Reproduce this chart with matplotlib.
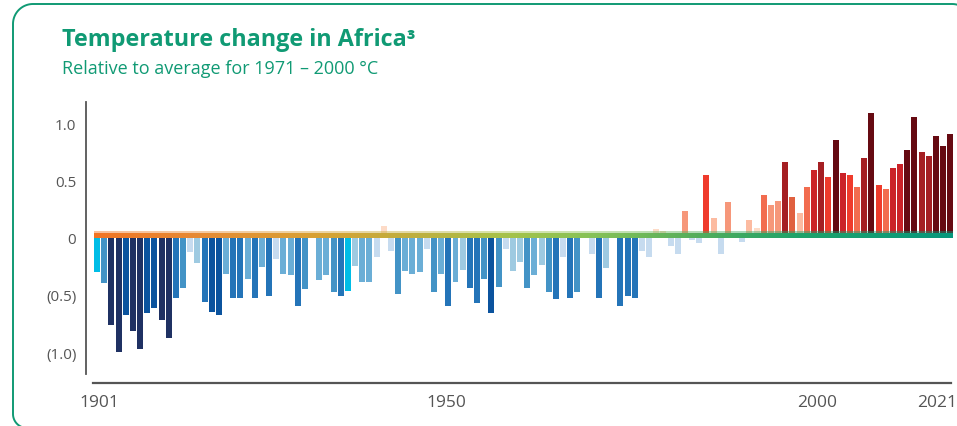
import matplotlib
matplotlib.use("Agg")
import matplotlib.pyplot as plt
import numpy as np
from matplotlib.colors import LinearSegmentedColormap

# ---------------- data ----------------
years = list(range(1901, 2021))
anomaly = [
    -0.30, -0.40, -0.76, -1.00, -0.68, -0.82, -0.97, -0.66, -0.62, -0.72,
    -0.88, -0.53, -0.44, -0.13, -0.22, -0.56, -0.65, -0.68, -0.32, -0.53,
    -0.53, -0.36, -0.53, -0.26, -0.51, -0.19, -0.32, -0.33, -0.60, -0.45,
    0.01, -0.37, -0.33, -0.48, -0.51, -0.47, -0.25, -0.39, -0.39, -0.17,
    0.10, -0.12, -0.49, -0.29, -0.32, -0.30, -0.10, -0.48, -0.32, -0.60,
    -0.39, -0.28, -0.44, -0.57, -0.36, -0.66, -0.43, -0.10, -0.29, -0.21,
    -0.44, -0.33, -0.24, -0.48, -0.54, -0.17, -0.53, -0.48, 0.01, -0.14,
    -0.53, -0.27, 0.01, -0.60, -0.51, -0.53, -0.12, -0.17, 0.07, 0.06,
    -0.07, -0.14, 0.23, -0.02, -0.05, 0.55, 0.17, -0.14, 0.31, 0.01,
    -0.04, 0.15, 0.08, 0.37, 0.28, 0.32, 0.66, 0.35, 0.21, 0.44,
    0.59, 0.66, 0.53, 0.85, 0.56, 0.55, 0.44, 0.69, 1.09, 0.46,
    0.42, 0.61, 0.64, 0.76, 1.05, 0.75, 0.71, 0.89, 0.80, 0.90,
]
# colour class of each bar as drawn in the source
color_class = [
    "C", "B3", "N", "N", "B1", "N", "N", "B1", "B1", "N",
    "N", "B2", "B3", "B6", "B5", "B2", "B1", "B1", "B4", "B2",
    "B2", "B4", "B2", "B4", "B2", "B6", "B4", "B4", "B2", "B3",
    "R1", "B4", "B4", "B3", "B2", "C", "B5", "B4", "B4", "B6",
    "R1", "B6", "B3", "B4", "B4", "B4", "B6", "B3", "B4", "B2",
    "B4", "B5", "B2", "B2", "B3", "B1", "B3", "B6", "B5", "B5",
    "B3", "B4", "B5", "B3", "B2", "B6", "B2", "B3", "R1", "B6",
    "B2", "B5", "R1", "B2", "B2", "B2", "B6", "B6", "R1", "R1",
    "B6", "B6", "R3", "B6", "B6", "R5", "R2", "B6", "R3", "R1",
    "B6", "R2", "R1", "R4", "R3", "R3", "R7", "R4b", "R2", "R4",
    "R6", "R7", "R5", "R8", "R6", "R5", "R4", "R7", "R8", "R5",
    "R4", "R6", "R6", "R8", "R8", "R7", "R7", "R8", "R8", "R8",
]
ytick_vals = [1.0, 0.5, 0.0, -0.5, -1.0]
ytick_labels = ["1.0", "0.5", "0", "(0.5)", "(1.0)"]
xtick_labels = ["1901", "1950", "2000", "2021"]

# ---------------- style ----------------
palette = {
    "C": "#00bde6", "N": "#1f3163", "B1": "#0b539e", "B2": "#2474b8",
    "B3": "#4393c6", "B4": "#6baed6", "B5": "#9ecae1", "B6": "#c6dbef",
    "R1": "#fddbc7", "R2": "#fcbba1", "R3": "#f6977a", "R4": "#f26c4f",
    "R4b": "#e0603f", "R5": "#ef3b2c", "R6": "#cb2228", "R7": "#a51f23",
    "R8": "#660a12",
}
green = "#109a74"
grey = "#555555"

W, H = 957, 427
fig = plt.figure(figsize=(W / 100, H / 100), dpi=100)

# background overlay axes in pixel units for the rounded frame
bg = fig.add_axes([0, 0, 1, 1])
bg.set_xlim(0, W)
bg.set_ylim(H, 0)
bg.axis("off")

def arc(cx, cy, r, t0, t1):
    t = np.radians(np.linspace(t0, t1, 30))
    return cx + r * np.cos(t), cy + r * np.sin(t)

segs_x, segs_y = [], []
for cx, cy, r, t0, t1 in [(27, 415, 14, 90, 180), (33, 25, 20, 180, 270),
                          (952, 25, 20, 270, 360)]:
    ax_, ay_ = arc(cx, cy, r, t0, t1)
    segs_x.append(ax_)
    segs_y.append(ay_)
frame_x = np.concatenate([[40], segs_x[0], segs_x[1], segs_x[2], [972]])
frame_y = np.concatenate([[429], segs_y[0], segs_y[1], segs_y[2], [200]])
bg.plot(frame_x, frame_y, color=green, lw=1.4, solid_capstyle="butt")
bg.set_xlim(0, W)
bg.set_ylim(H, 0)

# axes geometry (pixels)
px0, px1 = 86, 953
py_top, py_bot = 103, 384
ax = fig.add_axes([px0 / W, (H - py_bot) / H, (px1 - px0) / W, (py_bot - py_top) / H])

pitch = 7.17          # px per year
x_first = 97          # px centre of first bar
zero_px = 238.5
unit_px = 114.5

def px_to_year(p):
    return years[0] + (p - x_first) / pitch

bar_w = 6 / pitch
ax.bar(years, anomaly, width=bar_w, color=[palette[c] for c in color_class],
       linewidth=0, zorder=2)

# gradient band along zero
cmap = LinearSegmentedColormap.from_list("band", [
    (0.00, "#f27424"), (0.12, "#e68a34"), (0.25, "#d9a033"),
    (0.38, "#bdb040"), (0.48, "#a6c24a"), (0.58, "#86c257"),
    (0.70, "#55ae5c"), (0.82, "#1fa36a"), (1.00, "#07977c")])
grad = np.linspace(0, 1, 512).reshape(1, -1)
bx0 = years[0] - bar_w / 2
bx1 = years[-1] + bar_w / 2
ax.imshow(grad, cmap=cmap, aspect="auto", extent=[bx0, bx1, -0.004, 0.037],
          zorder=3, interpolation="bilinear")
ax.imshow(grad, cmap=cmap, aspect="auto", extent=[bx0, bx1, 0.037, 0.049],
          zorder=3, interpolation="bilinear", alpha=0.45)
ax.set_xlim(px_to_year(px0), px_to_year(px1))
ax.set_ylim((zero_px - py_bot) / unit_px, (zero_px - py_top) / unit_px)

# spines
for s in ["top", "right"]:
    ax.spines[s].set_visible(False)
ax.spines["left"].set_color(grey)
ax.spines["left"].set_linewidth(1.3)
ax.spines["left"].set_bounds((zero_px - 375) / unit_px, (zero_px - py_top) / unit_px)
ax.spines["bottom"].set_color(grey)
ax.spines["bottom"].set_linewidth(1.6)
ax.spines["bottom"].set_bounds(px_to_year(93), px_to_year(951))

ax.set_yticks(ytick_vals)
ax.set_yticklabels(ytick_labels, fontsize=11, color=grey, family="Open Sans")
ax.tick_params(axis="y", length=0, pad=7)

xtick_pos = [px_to_year(p) for p in (99.5, 446, 817, 937.5)]
ax.set_xticks(xtick_pos)
ax.set_xticklabels(xtick_labels, fontsize=12.5, color=grey, family="Open Sans")
ax.tick_params(axis="x", length=0, pad=8)

# titles
fig.text(62 / W, 1 - 40 / H, "Temperature change in Africa\u00b3", fontsize=16.8,
         fontweight="bold", color=green, va="center", ha="left", family="Open Sans")
fig.text(62 / W, 1 - 69 / H, "Relative to average for 1971 \u2013 2000 \u00b0C",
         fontsize=13, color=green, va="center", ha="left", family="Open Sans")

fig.savefig("out.png", dpi=100)
